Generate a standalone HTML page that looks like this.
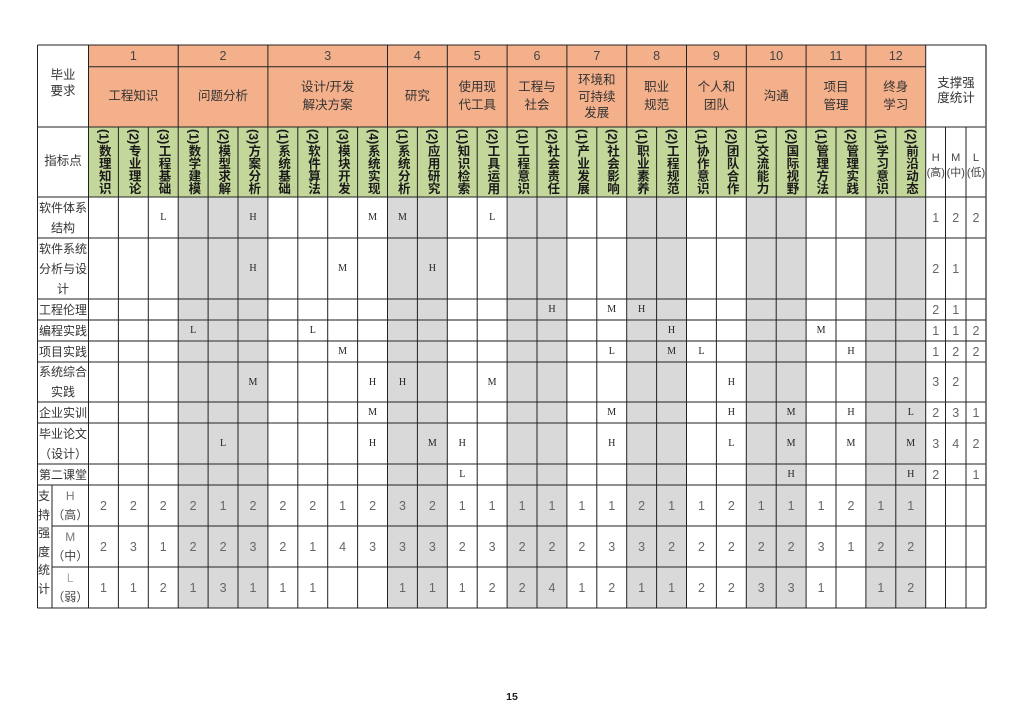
<!DOCTYPE html>
<html><head><meta charset="utf-8">
<style>
html,body{margin:0;padding:0;background:#fff;}
body{width:1024px;height:724px;position:relative;overflow:hidden;font-family:"Liberation Sans","Noto Sans CJK SC",sans-serif;}
svg{position:absolute;left:0;top:0;}
.c{position:absolute;display:flex;align-items:center;justify-content:center;text-align:center;white-space:nowrap;}
.h{font-family:"Liberation Sans","Noto Sans CJK SC",sans-serif;font-size:12.5px;color:#333;line-height:17.5px;}
.g{font-family:"Liberation Sans",sans-serif;font-size:12.5px;color:#444;top:45px;height:21.7px;}
.nm{top:66.7px;height:60.3px;}
.v{position:absolute;top:129px;height:68px;width:29.9px;display:flex;justify-content:center;align-items:flex-start;}
.v span{writing-mode:vertical-rl;text-orientation:mixed;font-family:"Liberation Sans","Noto Sans CJK SC",sans-serif;font-weight:bold;font-size:12.5px;line-height:1;color:#1a1a1a;}
.l{font-family:"Liberation Serif",serif;font-size:10px;color:#222;width:29.9px;}
.n{font-family:"Liberation Sans",sans-serif;font-size:12.5px;color:#666;width:29.9px;}
.sn{font-family:"Liberation Sans",sans-serif;font-size:12.5px;color:#666;}
.lb{left:37.5px;width:51px;font-size:12px;line-height:20px;color:#333;font-family:"Liberation Sans","Noto Sans CJK SC",sans-serif;}
.r1{top:197px;height:41px}.r2{top:238px;height:61px}.r3{top:299px;height:21px}.r4{top:320px;height:21px}
.r5{top:341px;height:21px}.r6{top:362px;height:40px}.r7{top:402px;height:21px}.r8{top:423px;height:41px}
.r9{top:464px;height:21px}.rh{top:485px;height:41px}.rm{top:526px;height:41px}.rl{top:567px;height:41px}
.k1{left:88.5px}.k2{left:118.4px}.k3{left:148.3px}.k4{left:178.2px}.k5{left:208.1px}.k6{left:238px}.k7{left:267.9px}
.k8{left:297.8px}.k9{left:327.7px}.k10{left:357.6px}.k11{left:387.5px}.k12{left:417.4px}.k13{left:447.3px}.k14{left:477.2px}
.k15{left:507.1px}.k16{left:537px}.k17{left:566.9px}.k18{left:596.8px}.k19{left:626.7px}.k20{left:656.6px}.k21{left:686.5px}
.k22{left:716.4px}.k23{left:746.3px}.k24{left:776.2px}.k25{left:806.1px}.k26{left:836px}.k27{left:865.9px}.k28{left:895.8px}
.s0{left:926px;width:19.5px}.s1{left:945.5px;width:20.5px}.s2{left:966px;width:20px}
</style></head><body>
<svg width="1024" height="724" viewBox="0 0 1024 724">
<rect x="88.5" y="45" width="837.2" height="82" fill="#f4b08b"/>
<rect x="88.5" y="127" width="837.2" height="70" fill="#c4d79b"/>
<g fill="#d9d9d9">
<rect x="178.2" y="197" width="89.7" height="411"/>
<rect x="387.5" y="197" width="59.8" height="411"/>
<rect x="507.1" y="197" width="59.8" height="411"/>
<rect x="626.7" y="197" width="59.8" height="411"/>
<rect x="746.3" y="197" width="59.8" height="411"/>
<rect x="865.9" y="197" width="59.8" height="411"/>
</g>
<g stroke="#222" stroke-width="1" fill="none">
<line x1="37.5" y1="45" x2="986" y2="45"/>
<line x1="88.5" y1="66.7" x2="925.7" y2="66.7"/>
<line x1="37.5" y1="127" x2="986" y2="127"/>
<line x1="37.5" y1="197" x2="986" y2="197"/>
<line x1="37.5" y1="238" x2="986" y2="238"/>
<line x1="37.5" y1="299" x2="986" y2="299"/>
<line x1="37.5" y1="320" x2="986" y2="320" stroke="#666" stroke-width="1.5"/>
<line x1="37.5" y1="341" x2="986" y2="341" stroke="#666" stroke-width="1.5"/>
<line x1="37.5" y1="362" x2="986" y2="362"/>
<line x1="37.5" y1="402" x2="986" y2="402"/>
<line x1="37.5" y1="423" x2="986" y2="423"/>
<line x1="37.5" y1="464" x2="986" y2="464"/>
<line x1="37.5" y1="485" x2="986" y2="485"/>
<line x1="52" y1="526" x2="986" y2="526"/>
<line x1="52" y1="567" x2="986" y2="567"/>
<line x1="37.5" y1="608" x2="986" y2="608"/>
<line x1="37.5" y1="45" x2="37.5" y2="608"/>
<line x1="88.5" y1="45" x2="88.5" y2="608"/>
<line x1="52" y1="485" x2="52" y2="608"/>
<line x1="986" y1="45" x2="986" y2="608" stroke="#555" stroke-width="1.5"/>
<line x1="925.7" y1="45" x2="925.7" y2="608"/>
<line x1="178.2" y1="45" x2="178.2" y2="608"/>
<line x1="267.9" y1="45" x2="267.9" y2="608"/>
<line x1="387.5" y1="45" x2="387.5" y2="608"/>
<line x1="447.3" y1="45" x2="447.3" y2="608"/>
<line x1="507.1" y1="45" x2="507.1" y2="608"/>
<line x1="566.9" y1="45" x2="566.9" y2="608"/>
<line x1="626.7" y1="45" x2="626.7" y2="608"/>
<line x1="686.5" y1="45" x2="686.5" y2="608"/>
<line x1="746.3" y1="45" x2="746.3" y2="608"/>
<line x1="806.1" y1="45" x2="806.1" y2="608"/>
<line x1="865.9" y1="45" x2="865.9" y2="608"/>
<line x1="118.4" y1="127" x2="118.4" y2="608"/>
<line x1="148.3" y1="127" x2="148.3" y2="608"/>
<line x1="208.1" y1="127" x2="208.1" y2="608"/>
<line x1="238" y1="127" x2="238" y2="608"/>
<line x1="297.8" y1="127" x2="297.8" y2="608"/>
<line x1="327.7" y1="127" x2="327.7" y2="608"/>
<line x1="357.6" y1="127" x2="357.6" y2="608"/>
<line x1="417.4" y1="127" x2="417.4" y2="608"/>
<line x1="477.2" y1="127" x2="477.2" y2="608"/>
<line x1="537" y1="127" x2="537" y2="608"/>
<line x1="596.8" y1="127" x2="596.8" y2="608"/>
<line x1="656.6" y1="127" x2="656.6" y2="608"/>
<line x1="716.4" y1="127" x2="716.4" y2="608"/>
<line x1="776.2" y1="127" x2="776.2" y2="608"/>
<line x1="836" y1="127" x2="836" y2="608"/>
<line x1="895.8" y1="127" x2="895.8" y2="608"/>
<line x1="945.5" y1="127" x2="945.5" y2="608"/>
<line x1="966" y1="127" x2="966" y2="608"/>
</g>
</svg>

<!-- top-left headers -->
<div class="c h" style="left:37.5px;width:51px;top:45px;height:76px;line-height:16.5px;">毕业<br>要求</div>
<div class="c h" style="left:37.5px;width:51px;top:127px;height:70px;">指标点</div>
<div class="c h" style="left:926px;width:60px;top:45px;height:92px;line-height:15.5px;">支撑强<br>度统计</div>

<!-- group numbers -->
<div class="c g" style="left:88.5px;width:89.7px;">1</div>
<div class="c g" style="left:178.2px;width:89.7px;">2</div>
<div class="c g" style="left:267.9px;width:119.6px;">3</div>
<div class="c g" style="left:387.5px;width:59.8px;">4</div>
<div class="c g" style="left:447.3px;width:59.8px;">5</div>
<div class="c g" style="left:507.1px;width:59.8px;">6</div>
<div class="c g" style="left:566.9px;width:59.8px;">7</div>
<div class="c g" style="left:626.7px;width:59.8px;">8</div>
<div class="c g" style="left:686.5px;width:59.8px;">9</div>
<div class="c g" style="left:746.3px;width:59.8px;">10</div>
<div class="c g" style="left:806.1px;width:59.8px;">11</div>
<div class="c g" style="left:865.9px;width:59.8px;">12</div>

<!-- group names -->
<div class="c h nm" style="left:88.5px;width:89.7px;">工程知识</div>
<div class="c h nm" style="left:178.2px;width:89.7px;">问题分析</div>
<div class="c h nm" style="left:267.9px;width:119.6px;">设计/开发<br>解决方案</div>
<div class="c h nm" style="left:387.5px;width:59.8px;">研究</div>
<div class="c h nm" style="left:447.3px;width:59.8px;">使用现<br>代工具</div>
<div class="c h nm" style="left:507.1px;width:59.8px;">工程与<br>社会</div>
<div class="c h nm" style="left:566.9px;width:59.8px;line-height:16.5px;">环境和<br>可持续<br>发展</div>
<div class="c h nm" style="left:626.7px;width:59.8px;">职业<br>规范</div>
<div class="c h nm" style="left:686.5px;width:59.8px;">个人和<br>团队</div>
<div class="c h nm" style="left:746.3px;width:59.8px;">沟通</div>
<div class="c h nm" style="left:806.1px;width:59.8px;">项目<br>管理</div>
<div class="c h nm" style="left:865.9px;width:59.8px;">终身<br>学习</div>

<!-- indicator vertical labels -->
<div class="v k1"><span>(1)数理知识</span></div>
<div class="v k2"><span>(2)专业理论</span></div>
<div class="v k3"><span>(3)工程基础</span></div>
<div class="v k4"><span>(1)数学建模</span></div>
<div class="v k5"><span>(2)模型求解</span></div>
<div class="v k6"><span>(3)方案分析</span></div>
<div class="v k7"><span>(1)系统基础</span></div>
<div class="v k8"><span>(2)软件算法</span></div>
<div class="v k9"><span>(3)模块开发</span></div>
<div class="v k10"><span>(4)系统实现</span></div>
<div class="v k11"><span>(1)系统分析</span></div>
<div class="v k12"><span>(2)应用研究</span></div>
<div class="v k13"><span>(1)知识检索</span></div>
<div class="v k14"><span>(2)工具运用</span></div>
<div class="v k15"><span>(1)工程意识</span></div>
<div class="v k16"><span>(2)社会责任</span></div>
<div class="v k17"><span>(1)产业发展</span></div>
<div class="v k18"><span>(2)社会影响</span></div>
<div class="v k19"><span>(1)职业素养</span></div>
<div class="v k20"><span>(2)工程规范</span></div>
<div class="v k21"><span>(1)协作意识</span></div>
<div class="v k22"><span>(2)团队合作</span></div>
<div class="v k23"><span>(1)交流能力</span></div>
<div class="v k24"><span>(2)国际视野</span></div>
<div class="v k25"><span>(1)管理方法</span></div>
<div class="v k26"><span>(2)管理实践</span></div>
<div class="v k27"><span>(1)学习意识</span></div>
<div class="v k28"><span>(2)前沿动态</span></div>

<!-- stats header H M L -->
<div class="c s0" style="top:131px;height:70px;font-size:11px;line-height:15px;color:#444;">H<br>(高)</div>
<div class="c s1" style="top:131px;height:70px;font-size:11px;line-height:15px;color:#444;">M<br>(中)</div>
<div class="c s2" style="top:131px;height:70px;font-size:11px;line-height:15px;color:#444;">L<br>(低)</div>

<!-- row labels -->
<div class="c lb r1">软件体系<br>结构</div>
<div class="c lb r2">软件系统<br>分析与设<br>计</div>
<div class="c lb r3">工程伦理</div>
<div class="c lb r4">编程实践</div>
<div class="c lb r5">项目实践</div>
<div class="c lb r6">系统综合<br>实践</div>
<div class="c lb r7">企业实训</div>
<div class="c lb r8">毕业论文<br>（设计）</div>
<div class="c lb r9">第二课堂</div>

<!-- R1 -->
<div class="c l r1 k3">L</div><div class="c l r1 k6">H</div><div class="c l r1 k10">M</div><div class="c l r1 k11">M</div><div class="c l r1 k14">L</div>
<div class="c sn r1 s0">1</div><div class="c sn r1 s1">2</div><div class="c sn r1 s2">2</div>
<!-- R2 -->
<div class="c l r2 k6">H</div><div class="c l r2 k9">M</div><div class="c l r2 k12">H</div>
<div class="c sn r2 s0">2</div><div class="c sn r2 s1">1</div>
<!-- R3 -->
<div class="c l r3 k16">H</div><div class="c l r3 k18">M</div><div class="c l r3 k19">H</div>
<div class="c sn r3 s0">2</div><div class="c sn r3 s1">1</div>
<!-- R4 -->
<div class="c l r4 k4">L</div><div class="c l r4 k8">L</div><div class="c l r4 k20">H</div><div class="c l r4 k25">M</div>
<div class="c sn r4 s0">1</div><div class="c sn r4 s1">1</div><div class="c sn r4 s2">2</div>
<!-- R5 -->
<div class="c l r5 k9">M</div><div class="c l r5 k18">L</div><div class="c l r5 k20">M</div><div class="c l r5 k21">L</div><div class="c l r5 k26">H</div>
<div class="c sn r5 s0">1</div><div class="c sn r5 s1">2</div><div class="c sn r5 s2">2</div>
<!-- R6 -->
<div class="c l r6 k6">M</div><div class="c l r6 k10">H</div><div class="c l r6 k11">H</div><div class="c l r6 k14">M</div><div class="c l r6 k22">H</div>
<div class="c sn r6 s0">3</div><div class="c sn r6 s1">2</div>
<!-- R7 -->
<div class="c l r7 k10">M</div><div class="c l r7 k18">M</div><div class="c l r7 k22">H</div><div class="c l r7 k24">M</div><div class="c l r7 k26">H</div><div class="c l r7 k28">L</div>
<div class="c sn r7 s0">2</div><div class="c sn r7 s1">3</div><div class="c sn r7 s2">1</div>
<!-- R8 -->
<div class="c l r8 k5">L</div><div class="c l r8 k10">H</div><div class="c l r8 k12">M</div><div class="c l r8 k13">H</div><div class="c l r8 k18">H</div><div class="c l r8 k22">L</div><div class="c l r8 k24">M</div><div class="c l r8 k26">M</div><div class="c l r8 k28">M</div>
<div class="c sn r8 s0">3</div><div class="c sn r8 s1">4</div><div class="c sn r8 s2">2</div>
<!-- R9 -->
<div class="c l r9 k13">L</div><div class="c l r9 k24">H</div><div class="c l r9 k28">H</div>
<div class="c sn r9 s0">2</div><div class="c sn r9 s2">1</div>

<!-- stats label column -->
<div style="position:absolute;left:38px;top:487px;width:14px;font-size:12px;line-height:18.5px;color:#333;">支<br>持<br>强<br>度<br>统<br>计</div>
<div class="c rh" style="left:52px;width:36.5px;font-size:12px;line-height:19px;color:#444;"><span><span style="color:#777">H</span><br>（高）</span></div>
<div class="c rm" style="left:52px;width:36.5px;font-size:12px;line-height:19px;color:#444;"><span><span style="color:#777">M</span><br>（中）</span></div>
<div class="c rl" style="left:52px;width:36.5px;font-size:12px;line-height:19px;color:#444;"><span><span style="color:#aaa">L</span><br>（弱）</span></div>

<!-- H row -->
<div class="c n rh k1">2</div><div class="c n rh k2">2</div><div class="c n rh k3">2</div><div class="c n rh k4">2</div><div class="c n rh k5">1</div><div class="c n rh k6">2</div><div class="c n rh k7">2</div><div class="c n rh k8">2</div><div class="c n rh k9">1</div><div class="c n rh k10">2</div>
<div class="c n rh k11">3</div><div class="c n rh k12">2</div><div class="c n rh k13">1</div><div class="c n rh k14">1</div><div class="c n rh k15">1</div><div class="c n rh k16">1</div><div class="c n rh k17">1</div><div class="c n rh k18">1</div><div class="c n rh k19">2</div><div class="c n rh k20">1</div>
<div class="c n rh k21">1</div><div class="c n rh k22">2</div><div class="c n rh k23">1</div><div class="c n rh k24">1</div><div class="c n rh k25">1</div><div class="c n rh k26">2</div><div class="c n rh k27">1</div><div class="c n rh k28">1</div>
<!-- M row -->
<div class="c n rm k1">2</div><div class="c n rm k2">3</div><div class="c n rm k3">1</div><div class="c n rm k4">2</div><div class="c n rm k5">2</div><div class="c n rm k6">3</div><div class="c n rm k7">2</div><div class="c n rm k8">1</div><div class="c n rm k9">4</div><div class="c n rm k10">3</div>
<div class="c n rm k11">3</div><div class="c n rm k12">3</div><div class="c n rm k13">2</div><div class="c n rm k14">3</div><div class="c n rm k15">2</div><div class="c n rm k16">2</div><div class="c n rm k17">2</div><div class="c n rm k18">3</div><div class="c n rm k19">3</div><div class="c n rm k20">2</div>
<div class="c n rm k21">2</div><div class="c n rm k22">2</div><div class="c n rm k23">2</div><div class="c n rm k24">2</div><div class="c n rm k25">3</div><div class="c n rm k26">1</div><div class="c n rm k27">2</div><div class="c n rm k28">2</div>
<!-- L row -->
<div class="c n rl k1">1</div><div class="c n rl k2">1</div><div class="c n rl k3">2</div><div class="c n rl k4">1</div><div class="c n rl k5">3</div><div class="c n rl k6">1</div><div class="c n rl k7">1</div><div class="c n rl k8">1</div>
<div class="c n rl k11">1</div><div class="c n rl k12">1</div><div class="c n rl k13">1</div><div class="c n rl k14">2</div><div class="c n rl k15">2</div><div class="c n rl k16">4</div><div class="c n rl k17">1</div><div class="c n rl k18">2</div><div class="c n rl k19">1</div><div class="c n rl k20">1</div>
<div class="c n rl k21">2</div><div class="c n rl k22">2</div><div class="c n rl k23">3</div><div class="c n rl k24">3</div><div class="c n rl k25">1</div><div class="c n rl k27">1</div><div class="c n rl k28">2</div>

<!-- page number -->
<div class="c" style="left:0;width:1024px;top:689px;height:16px;font-family:'Liberation Sans',sans-serif;font-size:10.5px;font-weight:bold;color:#222;">15</div>
</body></html>
